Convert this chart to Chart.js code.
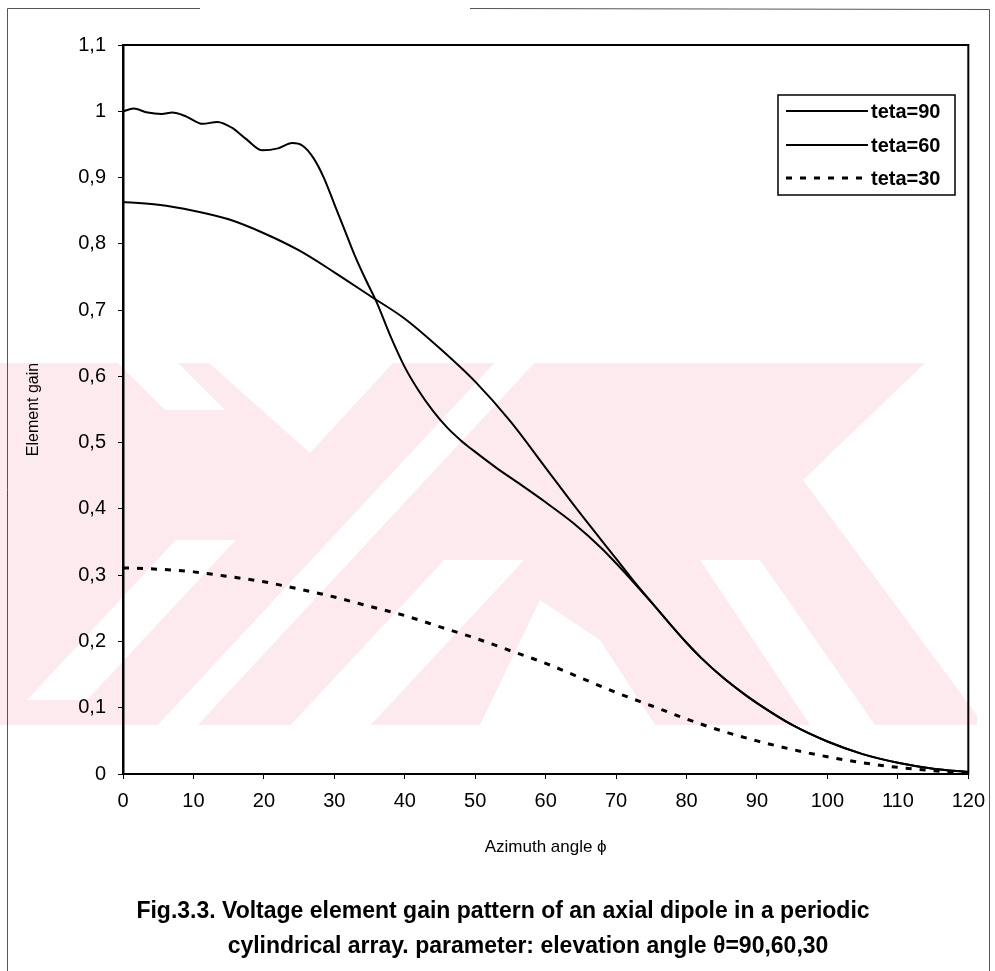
<!DOCTYPE html>
<html>
<head>
<meta charset="utf-8">
<script src="https://cdn.jsdelivr.net/npm/chart.js@4.4.1/dist/chart.umd.min.js"></script>
<style>
  html, body { margin: 0; padding: 0; background: #fff; }
  #wrap { width: 995px; height: 971px; }
</style>
</head>
<body>
<div id="wrap"><canvas id="graficoGanho" width="995" height="971"></canvas></div>
<script>
// azimuth angle (deg) and element gain
const phi90  = [0, 1.5, 3.5, 5.5, 7, 9, 11.3, 13.4, 15.5, 17.5, 19.8, 22, 24, 25.5, 27, 28.5, 30, 31.5, 33, 34.5, 36, 38, 40, 42, 44, 46, 48, 50, 53, 56, 60, 64, 68, 70, 72, 74, 76, 78, 80, 82, 85, 88, 90, 95, 100, 105, 110, 115, 120];
const gain90 = [1.0, 1.004, 0.998, 0.996, 0.998, 0.992, 0.981, 0.984, 0.975, 0.958, 0.941, 0.944, 0.952, 0.948, 0.93, 0.9, 0.86, 0.82, 0.78, 0.745, 0.712, 0.66, 0.614, 0.578, 0.548, 0.523, 0.503, 0.486, 0.462, 0.44, 0.41, 0.378, 0.34, 0.318, 0.295, 0.271, 0.247, 0.222, 0.198, 0.176, 0.147, 0.122, 0.107, 0.074, 0.049, 0.03, 0.017, 0.008, 0.003];

const phi60  = [0, 5, 10, 15, 20, 25, 30, 35, 40, 45, 50, 55, 60, 65, 70, 72, 74, 76, 78, 80, 82, 85, 88, 90, 95, 100, 105, 110, 115, 120];
const gain60 = [0.863, 0.859, 0.85, 0.837, 0.816, 0.79, 0.757, 0.722, 0.687, 0.642, 0.592, 0.532, 0.462, 0.392, 0.325, 0.298, 0.272, 0.247, 0.222, 0.198, 0.176, 0.147, 0.122, 0.107, 0.074, 0.049, 0.03, 0.017, 0.008, 0.003];

const phi30  = [0, 5, 10, 15, 20, 25, 30, 35, 40, 45, 50, 55, 60, 65, 70, 75, 80, 85, 90, 95, 100, 105, 110, 115, 120];
const gain30 = [0.311, 0.309, 0.305, 0.298, 0.29, 0.279, 0.267, 0.253, 0.239, 0.222, 0.205, 0.186, 0.167, 0.145, 0.123, 0.103, 0.083, 0.065, 0.05, 0.037, 0.026, 0.017, 0.01, 0.005, 0.002];

const seriesLabels = ['teta=90', 'teta=60', 'teta=30'];
const captionLines = [
  'Fig.3.3. Voltage element gain pattern of an axial dipole in a periodic',
  'cylindrical array. parameter: elevation angle \u03B8=90,60,30'
];

const FONT = '"Liberation Sans", Arial, sans-serif';

function pontos(xs, ys) {
  return xs.map((x, i) => ({ x: x, y: ys[i] }));
}

// "/" stripe between two lines x + k*y = c, limited to y0..y1
function faixa(c, w, y0, y1) {
  const k = 0.93;
  return [[c - k * y0 - w / 2, y0], [c - k * y0 + w / 2, y0], [c - k * y1 + w / 2, y1], [c - k * y1 - w / 2, y1]];
}

// scanned sheet: faint pink watermark and the page frame
const fundo = {
  id: 'fundo',
  beforeDraw(chart) {
    const ctx = chart.ctx;
    ctx.save();
    ctx.fillStyle = '#fff';
    ctx.fillRect(0, 0, chart.width, chart.height);

    ctx.fillStyle = '#fdeaee';
    ctx.fillRect(0, 363, 977, 362);
    const brancos = [
      [[209, 363], [393, 363], [310, 453]],
      [[118, 363], [178, 363], [225, 410], [165, 410]],
      faixa(852, 40, 363, 725),
      faixa(708, 60, 540, 700),
      faixa(1005, 80, 560, 725),
      [[480, 725], [655, 725], [600, 640], [540, 600]],
      [[700, 560], [760, 560], [875, 725], [810, 725]],
      [[925, 363], [995, 363], [995, 725], [984, 725], [877, 580], [803, 480]]
    ];
    ctx.fillStyle = '#fff';
    brancos.forEach(p => {
      ctx.beginPath();
      ctx.moveTo(p[0][0], p[0][1]);
      for (let i = 1; i < p.length; i++) ctx.lineTo(p[i][0], p[i][1]);
      ctx.closePath();
      ctx.fill();
    });

    ctx.strokeStyle = '#555';
    ctx.lineWidth = 1;
    ctx.beginPath();
    ctx.moveTo(7.5, 971); ctx.lineTo(7.5, 8.5); ctx.lineTo(200, 8.5);
    ctx.moveTo(470, 8.5); ctx.lineTo(989.5, 9.5); ctx.lineTo(989.5, 971);
    ctx.stroke();
    ctx.restore();
  }
};

// box around the plot area
const caixa = {
  id: 'caixa',
  afterDatasetsDraw(chart) {
    const { ctx, chartArea: a } = chart;
    ctx.save();
    ctx.strokeStyle = '#000';
    ctx.lineWidth = 2;
    ctx.strokeRect(a.left, a.top, a.right - a.left, a.bottom - a.top);
    ctx.restore();
  }
};

// legend in the style of the original (framed, line sample then text)
const legenda = {
  id: 'legenda',
  afterDraw(chart) {
    const ctx = chart.ctx;
    const x0 = 778, y0 = 95, w = 177, h = 100;
    const ys = [111, 145, 178];
    ctx.save();
    ctx.fillStyle = '#fff';
    ctx.fillRect(x0, y0, w, h);
    ctx.strokeStyle = '#000';
    ctx.lineWidth = 1.5;
    ctx.strokeRect(x0, y0, w, h);
    chart.data.datasets.forEach((ds, i) => {
      ctx.beginPath();
      ctx.lineWidth = ds.borderWidth;
      ctx.setLineDash(ds.borderDash || []);
      ctx.moveTo(786, ys[i]);
      ctx.lineTo(868, ys[i]);
      ctx.stroke();
      ctx.setLineDash([]);
      ctx.fillStyle = '#000';
      ctx.font = 'bold 20px ' + FONT;
      ctx.textBaseline = 'middle';
      ctx.textAlign = 'left';
      ctx.fillText(ds.label, 871, ys[i] + 1);
    });
    ctx.restore();
  }
};

// figure caption under the chart
const legendaFigura = {
  id: 'legendaFigura',
  afterDraw(chart) {
    const ctx = chart.ctx;
    ctx.save();
    ctx.fillStyle = '#000';
    ctx.font = 'bold 23px ' + FONT;
    ctx.textAlign = 'center';
    ctx.textBaseline = 'middle';
    ctx.fillText(captionLines[0], 503, 912);
    ctx.fillText(captionLines[1], 528, 947);
    ctx.restore();
  }
};

const ctxGanho = document.getElementById('graficoGanho');
new Chart(ctxGanho, {
  type: 'scatter',
  data: {
    datasets: [
      {
        label: seriesLabels[0],
        data: pontos(phi90, gain90),
        showLine: true,
        borderColor: '#000',
        borderWidth: 2,
        pointRadius: 0,
        cubicInterpolationMode: 'monotone'
      },
      {
        label: seriesLabels[1],
        data: pontos(phi60, gain60),
        showLine: true,
        borderColor: '#000',
        borderWidth: 2,
        pointRadius: 0,
        cubicInterpolationMode: 'monotone'
      },
      {
        label: seriesLabels[2],
        data: pontos(phi30, gain30),
        showLine: true,
        borderColor: '#000',
        borderWidth: 3,
        borderDash: [6, 8],
        pointRadius: 0,
        cubicInterpolationMode: 'monotone'
      }
    ]
  },
  options: {
    responsive: false,
    animation: false,
    layout: { padding: { top: 45, right: 22, bottom: 107, left: 0 } },
    plugins: {
      legend: { display: false },
      tooltip: { enabled: false },
      title: { display: false }
    },
    scales: {
      x: {
        type: 'linear',
        min: 0,
        max: 120,
        ticks: { stepSize: 10, color: '#000', padding: 10, font: { family: FONT, size: 20 } },
        grid: { drawOnChartArea: false, tickLength: 5, color: '#000' },
        border: { color: '#000', width: 2 },
        title: {
          display: true,
          text: 'Azimuth angle \u03D5',
          color: '#000',
          font: { family: FONT, size: 17 },
          padding: { top: 0, bottom: 6 }
        },
        afterFit(scale) { scale.height = 90; }
      },
      y: {
        min: 0,
        max: 1.1,
        ticks: {
          stepSize: 0.1,
          color: '#000',
          padding: 12,
          font: { family: FONT, size: 20 },
          callback: (v) => v.toFixed(1).replace('.', ',').replace(/,0$/, '')
        },
        grid: { drawOnChartArea: false, tickLength: 5, color: '#000' },
        border: { color: '#000', width: 2.5 },
        title: {
          display: true,
          text: 'Element gain',
          color: '#000',
          font: { family: FONT, size: 16 },
          padding: { top: 24, bottom: 0 }
        },
        afterFit(scale) { scale.width = 123; }
      }
    }
  },
  plugins: [fundo, caixa, legenda, legendaFigura]
});
</script>
</body>
</html>
